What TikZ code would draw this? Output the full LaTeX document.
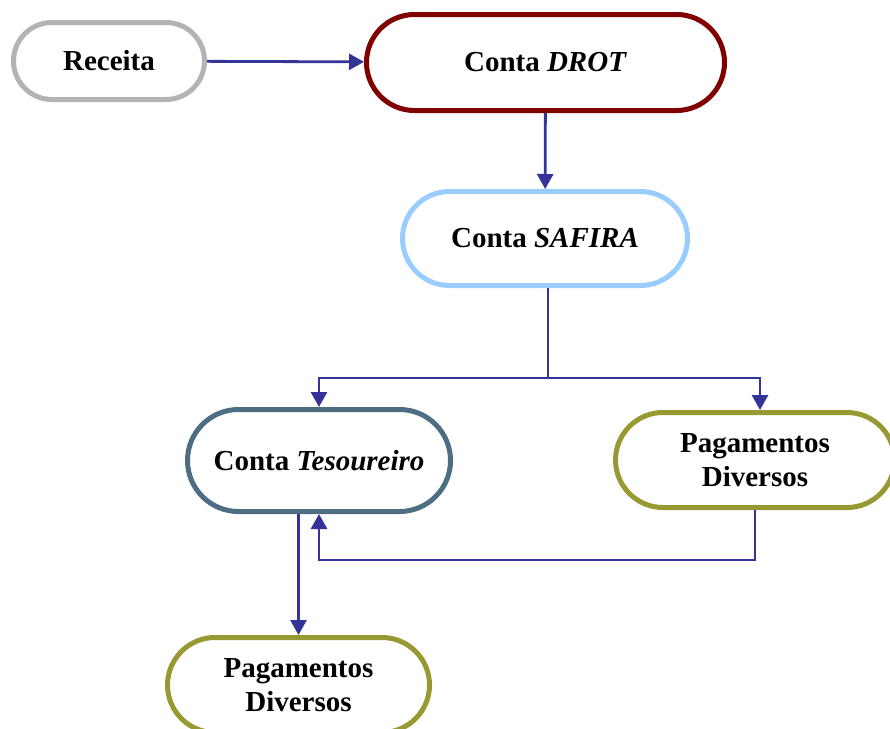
\documentclass[tikz,border=0pt]{standalone}
\usepackage{fontspec}
\setmainfont{Liberation Serif}
\usepackage{tikz}
\usetikzlibrary{shapes.misc, arrows.meta}

\definecolor{cinza}{HTML}{B3B3B3}
\definecolor{vinho}{HTML}{800000}
\definecolor{azulclaro}{HTML}{99CCFF}
\definecolor{ardosia}{HTML}{4D6E82}
\definecolor{oliva}{HTML}{999933}
\definecolor{seta}{HTML}{333399}

\tikzset{
    conta/.style={rounded rectangle, draw, line width=5pt, fill=white,
        font=\fontsize{29}{34}\selectfont\bfseries, align=center, inner sep=0pt},
    fluxo/.style={draw=seta, line width=2.8pt, -{Triangle[length=15pt,width=16pt]}}
}

\begin{document}
\begin{tikzpicture}[x=1pt, y=-1pt]
    \useasboundingbox (0,0) rectangle (890,728);
    \node[conta, draw=cinza, minimum width=191pt, minimum height=77pt](receita) at (109,61) {Receita};
    \node[conta, draw=vinho, minimum width=358pt, minimum height=96pt](drot) at (545.5,62.5) {Conta \textit{DROT}};
    \node[conta, draw=azulclaro, minimum width=285pt, minimum height=94pt](safira) at (545,238.5) {Conta \textit{SAFIRA}};
    \node[conta, draw=ardosia, minimum width=263pt, minimum height=102pt](tes) at (319,460.5) {Conta \textit{Tesoureiro}};
    \node[conta, draw=oliva, minimum width=279pt, minimum height=95pt](pag1) at (755,460) {Pagamentos\\Diversos};
    \node[conta, draw=oliva, minimum width=262pt, minimum height=95pt](pag2) at (298.5,685) {Pagamentos\\Diversos};
    \path
        (receita)
            edge [fluxo] (drot)
        (drot)
            edge [fluxo] (safira)
        ;
    % saida da SAFIRA
    \draw[fluxo] ([xshift=3pt]safira.south) -- ++(0,90) -| (tes.north);
    \draw[fluxo] ([xshift=3pt]safira.south) -- ++(0,90) -| ([xshift=5pt]pag1.north);
    % retorno para o tesoureiro
    \draw[fluxo] (pag1.south) -- ++(0,50) -| (tes.south);
    \draw[fluxo] (tes.south -| pag2.north) -- (pag2.north);
\end{tikzpicture}
\end{document}
